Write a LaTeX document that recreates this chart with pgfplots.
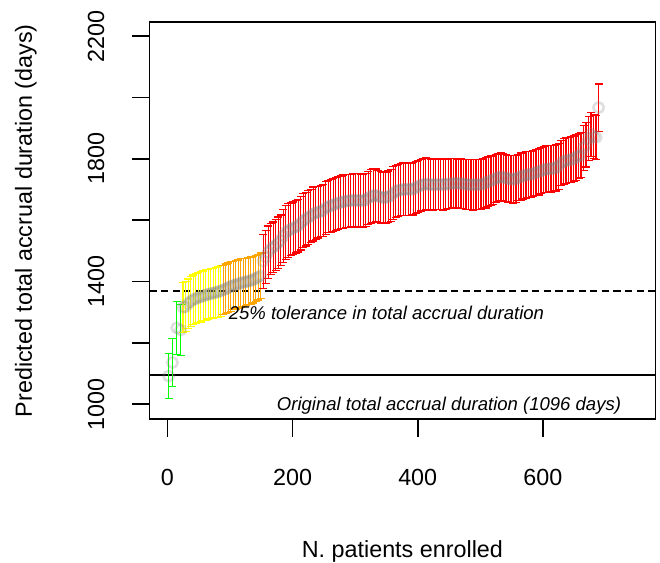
\documentclass[border=0pt]{standalone}
\usepackage{fontspec}
\setmainfont{Liberation Sans}
\usepackage{pgfplots}
\pgfplotsset{compat=1.18}
\usepackage{pgfplotstable}
\usetikzlibrary{arrows.meta}
\definecolor{Rgreen}{RGB}{0,255,0}
\definecolor{Ryellow}{RGB}{255,255,0}
\definecolor{Rorange}{RGB}{255,165,0}
\definecolor{Rred}{RGB}{255,0,0}

\pgfplotstableread{
x y e
2 1092 76
8 1136 81
15 1249 89
21 1242 84
}\greendata

\pgfplotstableread{
x y e
25 1316 84
29 1318 83
33 1328 82
37 1335 83
41 1341 82
45 1344 84
49 1348 83
53 1350 84
57 1353 83
61 1356 84
65 1358 82
69 1361 84
73 1362 83
77 1364 84
81 1367 85
85 1369 84
}\yellowdata

\pgfplotstableread{
x y e
89 1373 82
93 1376 83
97 1380 82
101 1384 83
105 1387 81
109 1389 82
113 1392 80
117 1395 81
121 1397 80
125 1399 79
129 1401 78
133 1403 79
137 1406 78
141 1410 77
145 1414 76
149 1419 76
}\orangedata

\pgfplotstableread{
x y e
153 1466 90
157 1480 89
161 1496 87
165 1506 85
169 1512 84
173 1518 85
177 1526 86
181 1534 85
185 1548 88
189 1560 89
193 1566 90
197 1570 88
201 1574 87
205 1578 87
209 1582 88
213 1590 89
217 1598 90
221 1603 89
225 1609 90
229 1614 89
233 1620 90
237 1624 88
241 1626 86
245 1629 85
249 1632 86
253 1640 88
257 1644 87
261 1647 88
265 1650 89
269 1653 88
273 1656 89
277 1658 88
281 1660 89
285 1662 88
289 1663 89
293 1664 88
297 1665 88
301 1664 89
305 1665 88
309 1663 89
313 1664 88
317 1666 89
321 1672 88
325 1677 89
329 1680 89
333 1681 88
337 1678 87
341 1675 86
345 1673 86
349 1674 85
353 1676 86
357 1680 87
361 1688 88
365 1694 87
369 1697 86
373 1699 87
377 1700 88
381 1701 87
385 1701 88
389 1700 87
393 1702 87
397 1706 86
401 1710 87
405 1714 86
409 1716 87
413 1718 87
417 1717 86
421 1716 85
425 1715 84
429 1716 84
433 1717 85
437 1716 84
441 1716 85
445 1717 84
449 1718 83
453 1719 83
457 1720 82
461 1720 82
465 1720 81
469 1719 82
473 1718 82
477 1717 83
481 1716 83
485 1716 84
489 1715 84
493 1716 83
497 1716 84
501 1717 83
505 1718 83
509 1722 84
513 1726 83
517 1729 82
521 1732 82
525 1736 81
529 1739 81
533 1741 80
537 1740 80
541 1737 79
545 1735 79
549 1734 79
553 1733 80
557 1735 79
561 1739 78
565 1742 79
569 1745 78
573 1747 78
577 1749 78
581 1750 77
585 1752 78
589 1755 77
593 1758 78
597 1761 77
601 1764 77
605 1766 78
609 1767 77
613 1768 78
617 1769 77
621 1771 78
625 1776 77
629 1786 76
633 1791 76
637 1794 77
641 1796 76
645 1797 77
649 1800 76
653 1805 77
657 1809 76
661 1812 76
665 1835 76
669 1846 75
673 1866 74
677 1880 74
681 1872 74
685 1870 74
689 1967 79
}\reddata

\pgfplotsset{
  qbar/.style={draw=#1, line width=0.9pt, mark=none,
    quiver={u=0, v=2*\thisrow{e},
      every arrow/.append style={arrows={Bar[width=6pt,line width=0.9pt]-Bar[width=6pt,line width=0.9pt]}}}},
  circ/.style={only marks, mark=o, mark size=3.9pt,
    mark options={draw=gray, fill=none, line width=2pt, draw opacity=0.25}}
}

\begin{document}
\begin{tikzpicture}
\begin{axis}[
  scale only axis, width=379.65pt, height=297.75pt,
  xmin=-29, xmax=780, ymin=951, ymax=2245,
  axis line style={line width=1.2pt},
  tick style={line width=1.2pt, black},
  tick align=inside, major tick length=-13.2pt,
  tick pos=left,
  xtick={0,200,400,600}, xticklabels={0,200,400,600},
  ytick={1000,1200,1400,1600,1800,2000,2200},
  yticklabels={1000,,1400,,1800,,2200},
  minor tick num=0,
  tick label style={font=\fontsize{17.5}{21}\selectfont},
  xticklabel style={anchor=center, yshift=-44pt},
  yticklabel style={xshift=-40pt, rotate=90, anchor=center},
  xlabel={N. patients enrolled},
  ylabel={Predicted total accrual duration (days)},
  every axis x label/.style={at={(axis description cs:0.5,0)}, anchor=base, yshift=-104pt, font=\fontsize{17.5}{21}\selectfont},
  every axis y label/.style={at={(axis description cs:0,0.5)}, xshift=-88pt, rotate=90, anchor=base, font=\fontsize{17.5}{21}\selectfont},
]
\addplot[line width=1.2pt] coordinates {(-29,1096) (780,1096)};
\addplot[line width=1.2pt, dash pattern=on 5.5pt off 3.2pt] coordinates {(-29,1370) (780,1370)};

\addplot[circ] table[x=x, y=y] {\greendata};
\addplot[circ] table[x=x, y=y] {\yellowdata};
\addplot[circ] table[x=x, y=y] {\orangedata};
\addplot[circ] table[x=x, y=y] {\reddata};

\addplot[qbar=Rgreen] table[x=x, y expr=\thisrow{y}-\thisrow{e}] {\greendata};
\addplot[qbar=Ryellow] table[x=x, y expr=\thisrow{y}-\thisrow{e}] {\yellowdata};
\addplot[qbar=Rorange] table[x=x, y expr=\thisrow{y}-\thisrow{e}] {\orangedata};
\addplot[qbar=Rred] table[x=x, y expr=\thisrow{y}-\thisrow{e}] {\reddata};

\node[anchor=base, font=\itshape\fontsize{13.9}{16}\selectfont] at (axis cs:350,1275) {25\% tolerance in total accrual duration};
\node[anchor=base, font=\itshape\fontsize{13.9}{16}\selectfont] at (axis cs:450,981) {Original total accrual duration (1096 days)};
\end{axis}
\pgfresetboundingbox
\useasboundingbox (-111.98pt,-107.05pt) rectangle (383.02pt,314.45pt);
\end{tikzpicture}
\end{document}
